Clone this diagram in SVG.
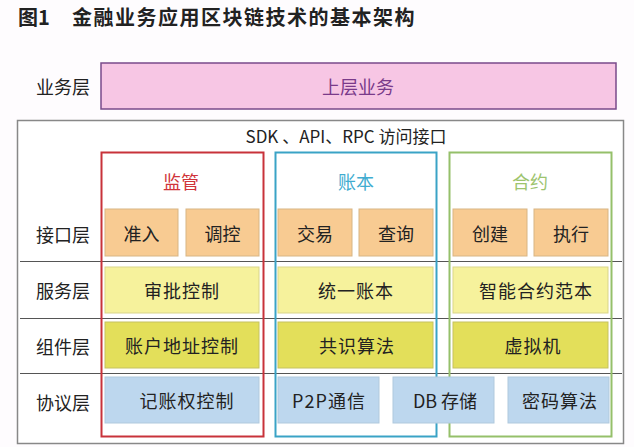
<svg xmlns="http://www.w3.org/2000/svg" width="634" height="447" viewBox="0 0 634 447">
<style>
text{font-family:"Noto Sans CJK SC","Liberation Sans",sans-serif;text-anchor:middle;dominant-baseline:central}
.lab{font-size:18px;fill:#222}
.bx{font-size:18px;fill:#222}
.or{fill:#F8CB92;stroke:#d8b584;stroke-width:1}
.ly{fill:#F6F29C;stroke:#d9d58a;stroke-width:1}
.dy{fill:#E3DF5A;stroke:#c5c260;stroke-width:1}
.bl{fill:#BDD7EE;stroke:#b0c9dd;stroke-width:1}
.row{stroke:#555;stroke-width:1}
</style>
<rect width="634" height="447" fill="#fefcfe"/>
<g id="title"><text x="18" y="16" style="text-anchor:start;font-size:20px;font-weight:bold;fill:#222">图1</text>
<text x="72" y="16" style="text-anchor:start;font-size:20px;font-weight:bold;fill:#222;letter-spacing:1.5px">金融业务应用区块链技术的基本架构</text></g>
<g id="biz-layer"><text class="lab" x="63" y="86">业务层</text>
<rect x="101" y="63" width="515" height="46" fill="#F7C6E4" stroke="#7a4a8a" stroke-width="1.5"/>
<text x="358" y="86" style="font-size:18px;fill:#7a3a8a">上层业务</text></g>
<g id="outer"><rect x="17.5" y="120.5" width="606" height="323" fill="#fff" stroke="#888" stroke-width="1.5"/>
<text x="346" y="135" style="font-size:17px;fill:#222">SDK 、API、RPC 访问接口</text></g>
<g id="connectors">
<line class="row" x1="20" y1="261.5" x2="622" y2="261.5"/>
<line class="row" x1="20" y1="318.5" x2="622" y2="318.5"/>
<line class="row" x1="20" y1="373.5" x2="622" y2="373.5"/>
</g>
<g id="col-supervision"><rect x="101.5" y="152.5" width="162" height="284" fill="none" stroke="#c8323a" stroke-width="2"/>
<text x="181" y="181" style="font-size:18px;fill:#d0343a">监管</text></g>
<g id="col-ledger"><rect x="275.5" y="152.5" width="161" height="284" fill="none" stroke="#3aa3c6" stroke-width="2"/>
<text x="356" y="181" style="font-size:18px;fill:#40acd0">账本</text></g>
<g id="col-contract"><rect x="449.5" y="152.5" width="162" height="284" fill="none" stroke="#95c06a" stroke-width="2"/>
<text x="530" y="181" style="font-size:18px;fill:#9dc46e">合约</text></g>
<g id="layer-labels">
<text class="lab" x="63" y="234">接口层</text>
<text class="lab" x="63" y="290">服务层</text>
<text class="lab" x="63" y="346">组件层</text>
<text class="lab" x="63" y="402">协议层</text>
</g>
<g id="n-zhunru"><rect class="or" x="105" y="209" width="73" height="47"/><text class="bx" x="141.5" y="233">准入</text></g>
<g id="n-tiaokong"><rect class="or" x="186" y="209" width="73" height="47"/><text class="bx" x="222.5" y="233">调控</text></g>
<g id="n-jiaoyi"><rect class="or" x="278" y="209" width="74" height="47"/><text class="bx" x="315" y="233">交易</text></g>
<g id="n-chaxun"><rect class="or" x="359" y="209" width="74" height="47"/><text class="bx" x="396" y="233">查询</text></g>
<g id="n-chuangjian"><rect class="or" x="453" y="209" width="74" height="47"/><text class="bx" x="490" y="233">创建</text></g>
<g id="n-zhixing"><rect class="or" x="534" y="209" width="74" height="47"/><text class="bx" x="571" y="233">执行</text></g>
<g id="n-shenpi"><rect class="ly" x="105" y="267" width="154" height="46"/><text class="bx" x="182" y="290" style="letter-spacing:1px">审批控制</text></g>
<g id="n-tongyi"><rect class="ly" x="278" y="267" width="155" height="46"/><text class="bx" x="356" y="290" style="letter-spacing:1px">统一账本</text></g>
<g id="n-zhineng"><rect class="ly" x="453" y="267" width="155" height="46"/><text class="bx" x="536" y="290" style="letter-spacing:1px">智能合约范本</text></g>
<g id="n-zhanghu"><rect class="dy" x="105" y="322" width="154" height="46"/><text class="bx" x="182" y="345" style="letter-spacing:1px">账户地址控制</text></g>
<g id="n-gongshi"><rect class="dy" x="278" y="322" width="155" height="46"/><text class="bx" x="357" y="345" style="letter-spacing:1px">共识算法</text></g>
<g id="n-xuni"><rect class="dy" x="453" y="322" width="155" height="46"/><text class="bx" x="533" y="345" style="letter-spacing:1px">虚拟机</text></g>
<g id="n-jizhang"><rect class="bl" x="105" y="377" width="154" height="46"/><text class="bx" x="187" y="400" style="letter-spacing:1px">记账权控制</text></g>
<g id="n-p2p"><rect class="bl" x="278" y="377" width="101" height="46"/><text class="bx" x="329" y="400" style="letter-spacing:1px">P2P通信</text></g>
<g id="n-db"><rect class="bl" x="393" y="377" width="101" height="46"/><text class="bx" x="445" y="400">DB 存储</text></g>
<g id="n-mima"><rect class="bl" x="508" y="377" width="101" height="46"/><text class="bx" x="560" y="400" style="letter-spacing:1px">密码算法</text></g>
</svg>
